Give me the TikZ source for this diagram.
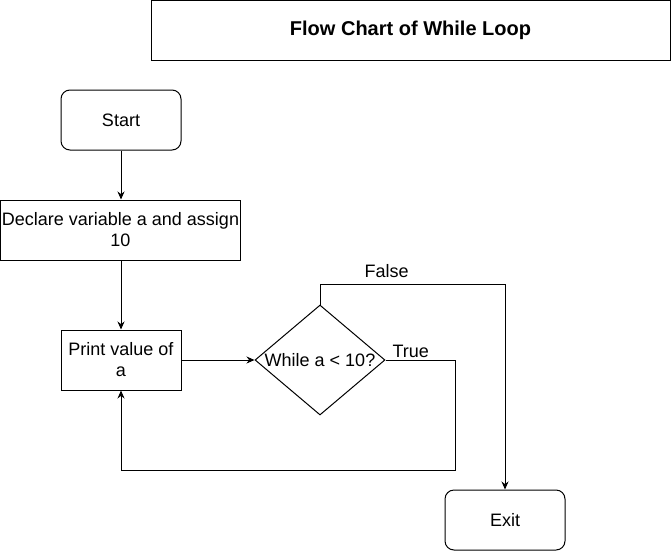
\documentclass[tikz,border=0pt]{standalone}
\usepackage{fontspec}
\setmainfont{Liberation Sans}
\usetikzlibrary{shapes.geometric}
\usetikzlibrary{arrows.meta}

\begin{document}
\begin{tikzpicture}[x=1pt,y=-1pt,
  every node/.style={font=\fontsize{18}{21}\selectfont},
  box/.style={rectangle, draw, line width=1pt, minimum width=120pt, minimum height=60pt, align=center, inner sep=1pt},
  term/.style={box, rounded corners=9pt},
  decision/.style={diamond, draw, line width=1pt, minimum width=130pt, minimum height=110pt, inner sep=0pt},
  lbl/.style={inner sep=2pt},
  flow/.style={line width=1pt, -{Stealth[length=8pt,width=7pt]}}]

      \useasboundingbox (0,0) rectangle (671,551);

      \node[box, minimum width=519pt, minimum height=59.5pt, font=\fontsize{20}{24}\selectfont\bfseries] (title) at (410.5,30.25) {\raisebox{-2pt}{Flow Chart of While Loop}};

      \node[term] (start) at (121,120) {Start};
      \node[box, minimum width=239pt] (declare) at (120.5,230) {Declare variable a and assign\\10};
      \node[box] (print) at (121,360) {Print value of\\a};
      \node[decision] (cond) at (320,360) {\makebox[0pt]{While a < 10?}};
      \node[term] (exit) at (505,520) {Exit};

      \draw [flow] (start.south) -- (start.south |- declare.north);
      \draw [flow] (print.north |- declare.south) -- (print.north);
      \draw [flow] (print.east) -- (cond.west);
      \draw [flow] (cond.east) -- ++(70,0) node [lbl, pos=0.36, above] (truelbl) {True} -- ++(0,110) -| (print.south);
      \draw [flow] (cond.north) -- ++(0,-20) -| (exit.north) node [lbl, pos=0.18, above, yshift=4pt] (falselbl) {False};

    \end{tikzpicture}
\end{document}
